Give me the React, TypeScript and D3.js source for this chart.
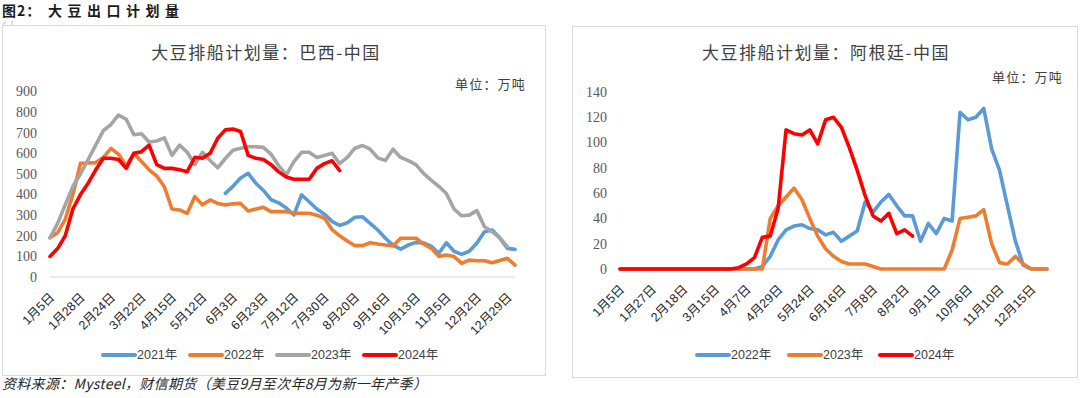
import * as d3 from "d3";

// 巴西-中国 排船计划量（万吨）
const brTicks = ["1月5日", "1月28日", "2月24日", "3月22日", "4月15日", "5月12日", "6月3日", "6月23日",
  "7月12日", "7月30日", "8月20日", "9月16日", "10月13日", "11月5日", "12月2日", "12月29日"];
const br2021 = [null, null, null, null, null, null, null, null, null, null, null, null, null, null, null, null,
  null, null, null, null, null, null, null,
  406, 440, 480, 503, 455, 420, 375, 360, 335, 301, 398, 365, 330, 305, 270, 250, 263, 290, 292, 260,
  228, 188, 155, 135, 155, 168, 165, 150, 115, 166, 125, 110, 125, 165, 220, 228, 190, 139, 134];
const br2022 = [190, 215, 280, 400, 552, 553, 555, 580, 624, 595, 540, 600, 560, 520, 490, 438, 330, 325, 309, 390,
  350, 374, 357, 350, 355, 357, 320, 330, 338, 317, 317, 317, 310, 309, 309, 300, 285, 230, 200, 175,
  152, 152, 166, 160, 155, 152, 188, 188, 188, 160, 140, 100, 107, 99, 66, 82, 79, 79, 69, 80, 91, 58];
const br2023 = [190, 260, 350, 440, 500, 570, 640, 710, 740, 786, 765, 690, 695, 655, 660, 675, 590, 640, 605, 545,
  605, 565, 530, 575, 615, 625, 632, 632, 629, 595, 540, 495, 560, 605, 605, 580, 590, 600, 550, 580,
  625, 638, 620, 578, 565, 620, 580, 565, 545, 503, 470, 440, 405, 330, 297, 300, 322, 244, 220, 190, 147];
const br2024 = [100, 138, 200, 330, 400, 455, 520, 576, 576, 570, 527, 600, 608, 640, 545, 527, 527, 520, 511, 581,
  576, 600, 673, 714, 718, 706, 590, 576, 570, 545, 510, 485, 474, 474, 474, 527, 550, 564, 516];

// 阿根廷-中国 排船计划量（万吨）
const arTicks = ["1月5日", "1月27日", "2月18日", "3月15日", "4月7日", "4月29日", "5月24日", "6月16日",
  "7月8日", "8月2日", "9月1日", "10月6日", "11月10日", "12月15日"];
const ar2022 = [0, 0, 0, 0, 0, 0, 0, 0, 0, 0, 0, 0, 0, 0, 0, 0, 0, 0,
  2, 10, 23, 31, 34, 35, 32, 31, 27, 29, 22, 26, 30, 53, 45, 53, 59, 50, 42, 42,
  22, 36, 28, 40, 38, 124, 118, 120, 127, 95, 78, 50, 22, 3, 0, 0, 0];
const ar2023 = [0, 0, 0, 0, 0, 0, 0, 0, 0, 0, 0, 0, 0, 0, 0, 0, 0, 0, 0,
  40, 50, 57, 64, 55, 40, 26, 16, 10, 6, 4, 4, 4, 2, 0, 0, 0, 0, 0, 0, 0, 0, 0,
  15, 40, 41, 42, 47, 20, 5, 4, 10, 4, 0, 0, 0];
const ar2024 = [0, 0, 0, 0, 0, 0, 0, 0, 0, 0, 0, 0, 0, 0, 0,
  1, 4, 9, 25, 26, 48, 110, 107, 106, 110, 99, 118, 120, 112, 96, 78, 58, 42, 38, 44, 28, 31, 26];

const TICK_STEP = 4;
const BLUE = "#5B9BD5", ORANGE = "#ED7D31", GRAY = "#A5A5A5", RED = "#FF0000";
const SERIF = "'Liberation Serif', 'Times New Roman', serif";
const SANS = "'Liberation Sans', Arial, 'Noto Sans CJK SC', sans-serif";
const CJK = "'Noto Sans CJK SC', sans-serif";

type Series = { name: string; color: string; values: (number | null)[] };

interface PanelProps {
  box: [number, number, number, number];
  title: string;
  titleX: number;
  unitX: number;
  unitY: number;
  xRange: [number, number];
  yRange: [number, number];
  yMax: number;
  yStep: number;
  yLabelX: number;
  ticks: string[];
  series: Series[];
  legendX: number[];
}

function Panel(p: PanelProps) {
  const n = d3.max(p.series, s => s.values.length) ?? 1;
  const x = d3.scaleLinear().domain([0, n - 1]).range(p.xRange);
  const y = d3.scaleLinear().domain([0, p.yMax]).range(p.yRange);
  const line = d3.line<number | null>()
    .defined(v => v != null)
    .x((_, i) => x(i))
    .y(v => y(v as number));
  const [x0, y0, x1, y1] = p.box;

  return (
    <g>
      <rect x={x0 + 0.5} y={y0 + 0.5} width={x1 - x0} height={y1 - y0} fill="#fff" stroke="#d9d9d9" />
      <text x={p.titleX} y={59} textAnchor="middle" fontFamily={CJK} fontSize={17}
        letterSpacing={1.5} fill="#404040">{p.title}</text>
      <text x={p.unitX} y={p.unitY} fontFamily={CJK} fontSize={13} letterSpacing={1.2}
        fill="#404040">单位：万吨</text>

      {d3.range(0, p.yMax + 1, p.yStep).map(v => (
        <text key={v} x={p.yLabelX} y={y(v)} dy="0.35em" textAnchor="end" fontFamily={SERIF}
          fontSize={14} fill="#595959">{v}</text>
      ))}
      <line x1={x(0)} x2={x(n - 1)} y1={y(0)} y2={y(0)} stroke="#d9d9d9" strokeWidth={1.2} />

      {p.ticks.map((t, k) => (
        <text key={t + k} transform={`translate(${x(k * TICK_STEP) + 2},${y(0) + 18}) rotate(-45)`}
          textAnchor="end" dy="0.35em" fontFamily={SANS} fontSize={12.5} fill="#262626">{t}</text>
      ))}

      {p.series.map(s => (
        <path key={s.name} d={line(s.values) ?? ""} fill="none" stroke={s.color} strokeWidth={3.6}
          strokeLinejoin="round" strokeLinecap="round" />
      ))}

      {p.series.map((s, k) => (
        <g key={s.name} transform={`translate(${p.legendX[k]},355)`}>
          <line x1={0} x2={32} y1={0} y2={0} stroke={s.color} strokeWidth={4} strokeLinecap="round" />
          <text x={34} y={0} dy="0.35em" fontFamily={SANS} fontSize={12.5} fill="#404040">{s.name}</text>
        </g>
      ))}
    </g>
  );
}

export default function App() {
  return (
    <svg width={1080} height={398} style={{ position: "absolute", left: 0, top: 0, background: "#fff" }}>
      <rect width={1080} height={398} fill="#fff" />
      <text y={16} fontFamily={CJK} fontWeight={700} fontSize={14} fill="#1a1a1a">
        <tspan x={2} letterSpacing={1}>图2：</tspan>
        <tspan x={48} letterSpacing={5.5}>大豆出口计划量</tspan>
      </text>
      <path d="M2,27 L4,23 L6,22 M12,21 L12,28" stroke="#bfbfbf" strokeWidth={1} fill="none" />

      <Panel
        box={[2, 25, 545, 375]}
        title="大豆排船计划量：巴西-中国"
        titleX={266}
        unitX={455}
        unitY={89}
        xRange={[50, 515]}
        yRange={[277, 91.5]}
        yMax={900}
        yStep={100}
        yLabelX={37}
        ticks={brTicks}
        series={[
          { name: "2021年", color: BLUE, values: br2021 },
          { name: "2022年", color: ORANGE, values: br2022 },
          { name: "2023年", color: GRAY, values: br2023 },
          { name: "2024年", color: RED, values: br2024 },
        ]}
        legendX={[103, 190, 277, 364]}
      />

      <Panel
        box={[572, 26, 1077, 377]}
        title="大豆排船计划量：阿根廷-中国"
        titleX={826}
        unitX={992}
        unitY={82}
        xRange={[620, 1047]}
        yRange={[269, 92]}
        yMax={140}
        yStep={20}
        yLabelX={607}
        ticks={arTicks}
        series={[
          { name: "2022年", color: BLUE, values: ar2022 },
          { name: "2023年", color: ORANGE, values: ar2023 },
          { name: "2024年", color: RED, values: ar2024 },
        ]}
        legendX={[697, 789, 880]}
      />

      <text x={2} y={389} fontFamily={CJK} fontStyle="italic" fontSize={14} letterSpacing={0.3}
        fill="#262626">资料来源：Mysteel，财信期货（美豆9月至次年8月为新一年产季）</text>
    </svg>
  );
}
